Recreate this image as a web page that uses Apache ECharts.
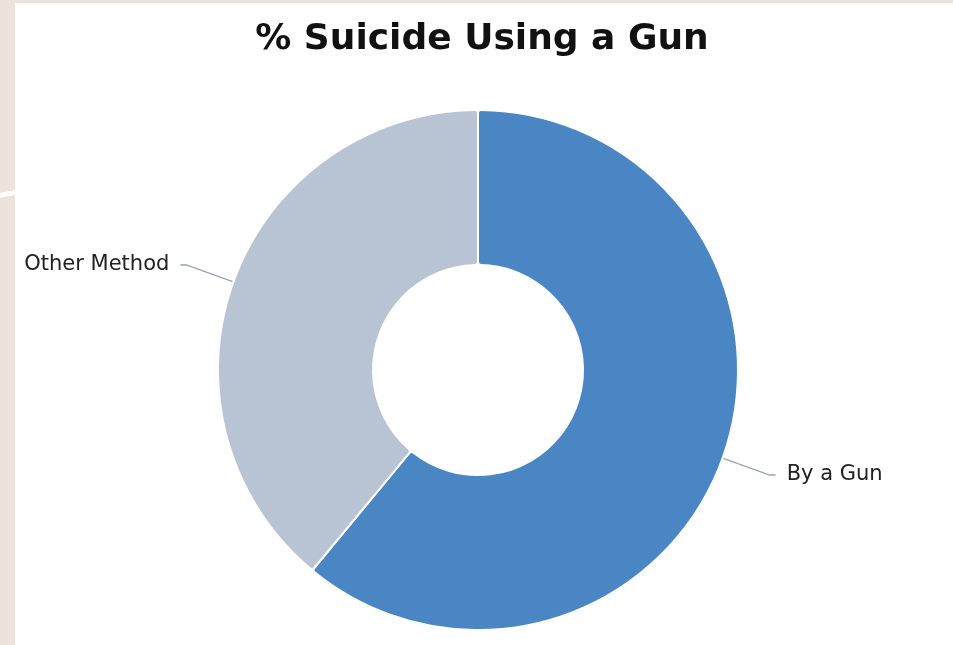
<!DOCTYPE html>
<html><head><meta charset="utf-8">
<script src="https://cdn.jsdelivr.net/npm/echarts@6/dist/echarts.min.js"></script>
<style>html,body{margin:0;padding:0;background:#ede3da;}#c{position:absolute;left:0;top:0;width:953px;height:645px;}</style>
</head><body><div id="c"></div>
<script>
const titleText = '% Suicide Using a Gun';
const categories = ['By a Gun', 'Other Method'];
const values = [61, 39];
const colors = ['#4a86c4', '#b8c4d3'];

const chart = echarts.init(document.getElementById('c'));
chart.setOption({
  animation: false,
  backgroundColor: '#ede3da',
  graphic: [
    {type: 'rect', shape: {x: 15, y: 3, width: 938, height: 642}, style: {fill: '#ffffff'}, z: -10},
    {type: 'polygon', shape: {points: [[0, 193], [15, 190], [15, 195], [0, 198]]}, style: {fill: '#ffffff'}, z: -10}
  ],
  title: {text: titleText, left: 477, textAlign: 'center', top: 17,
    textStyle: {fontFamily: 'DejaVu Sans', fontWeight: 'bold', fontSize: 36, color: '#111'}},
  series: [{
    type: 'pie',
    center: [478, 370],
    radius: [105, 260],
    startAngle: 90,
    clockwise: true,
    data: categories.map((c, i) => ({name: c, value: values[i], itemStyle: {color: colors[i]}})),
    itemStyle: {borderColor: '#fff', borderWidth: 2, borderRadius: 3},
    label: {show: true, formatter: '{b}', fontFamily: 'DejaVu Sans', fontSize: 21, color: '#222', distanceToLabelLine: 11},
    labelLine: {show: true, length: 50, length2: 6, lineStyle: {color: '#98a3b4', width: 1.3}}
  }]
});
</script></body></html>
